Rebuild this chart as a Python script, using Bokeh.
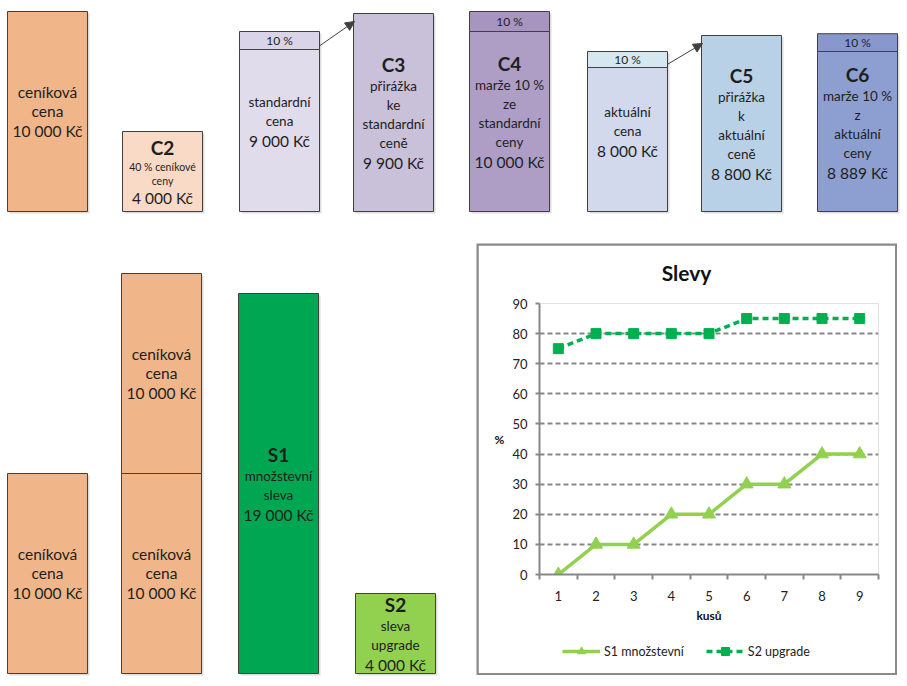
from bokeh.plotting import figure
from bokeh.models import (Range1d, FixedTicker, Arrow, NormalHead, Legend,
                          LegendItem, ColumnDataSource)
from bokeh.core.properties import value
from bokeh.embed import file_html
from bokeh.resources import INLINE

# ---------------- data ----------------
top_names = ["ceníková cena", "C2", "standardní cena", "C3", "C4", "aktuální cena", "C5", "C6"]
top_values = [10000, 4000, 9000, 9900, 10000, 8000, 8800, 8889]
top_has_band = [False, False, True, False, True, True, False, True]
band_label = "10 %"
band_share = 0.10
top_lines = [
    ["ceníková", "cena", "10 000 Kč"],
    ["C2", "40 % ceníkové", "ceny", "4 000 Kč"],
    ["standardní", "cena", "9 000 Kč"],
    ["C3", "přirážka", "ke", "standardní", "ceně", "9 900 Kč"],
    ["C4", "marže 10 %", "ze", "standardní", "ceny", "10 000 Kč"],
    ["aktuální", "cena", "8 000 Kč"],
    ["C5", "přirážka", "k", "aktuální", "ceně", "8 800 Kč"],
    ["C6", "marže 10 %", "z", "aktuální", "ceny", "8 889 Kč"],
]
# arrows: (from box index, to box index)
top_arrows = [(2, 3), (5, 6)]

bottom_stacks = [[10000], [10000, 10000], [19000], [4000]]
bottom_lines = [
    [["ceníková", "cena", "10 000 Kč"]],
    [["ceníková", "cena", "10 000 Kč"], ["ceníková", "cena", "10 000 Kč"]],
    [["S1", "množstevní", "sleva", "19 000 Kč"]],
    [["S2", "sleva", "upgrade", "4 000 Kč"]],
]

chart_title = "Slevy"
kusy = [1, 2, 3, 4, 5, 6, 7, 8, 9]
s1_mnozstevni = [0, 10, 10, 20, 20, 30, 30, 40, 40]
s2_upgrade = [75, 80, 80, 80, 80, 85, 85, 85, 85]
y_ticks = [0, 10, 20, 30, 40, 50, 60, 70, 80, 90]
series_names = ["S1 množstevní", "S2 upgrade"]

# ---------------- styles / layout ----------------
FONT = "Lato"
TXT = "#1e1e1e"
EDGE = "#404040"
KPX = 50.0  # Kč per screen pixel (from ranges / heights below)

top_x = [47, 162, 279, 393, 509, 627, 741, 857]
top_body_colors = ["#F0B68A", "#F9DAC6", "#E0DCEC", "#C9C0DA", "#AE9EC5", "#D2D9ED", "#B9D1E6", "#8D9FD0"]
top_band_colors = [None, None, "#D9D4E8", None, "#A794C1", "#D5E7EF", None, "#8898CE"]
top_styles = [
    ["b", "b", "v"],
    ["h", "s", "s", "v"],
    ["n", "n", "v"],
    ["h", "n", "n", "n", "n", "v"],
    ["h", "n", "n", "n", "n", "v"],
    ["n", "n", "v"],
    ["h", "n", "n", "n", "n", "v"],
    ["h", "n", "n", "n", "n", "v"],
]
bottom_x = [47, 161, 278, 395]
bottom_colors = [["#F0B68A"], ["#F0B68A", "#F0B68A"], ["#00A651"], ["#92D050"]]
bottom_styles = [
    [["b", "b", "v"]],
    [["b", "b", "v"], ["b", "b", "v"]],
    [["h", "n", "n", "v"]],
    [["h", "n", "n", "v"]],
]
STY = {
    "h": ("19px", "bold", 24),
    "n": ("13.5px", "normal", 19),
    "s": ("10.5px", "normal", 14),
    "v": ("15.5px", "normal", 20),
    "b": ("15.5px", "normal", 19),
}
BW = 80
S1_STYLE = dict(line_color="#92D050", line_width=3.5)
S2_STYLE = dict(line_color="#00B050", line_width=3.5, line_dash="6 4")
S1_MARK = dict(marker="triangle", size=13, fill_color="#92D050", line_color="#92D050")
S2_MARK = dict(marker="square", size=10, fill_color="#00B050", line_color="#00B050")


def place(left, top_):
    return {"position": "absolute", "left": f"{left}px", "top": f"{top_}px"}


def blank_fig(w, h, xr, yr, pos):
    p = figure(width=w, height=h, x_range=xr, y_range=yr, output_backend="svg",
               toolbar_location=None, x_axis_location=None, y_axis_location=None,
               min_border=0, styles=pos)
    p.grid.visible = False
    p.outline_line_color = None
    return p


def add_text_lines(store, x, lo, hi, lines, styles):
    c = (lo + hi) / 2.0
    total = sum(STY[s][2] for s in styles)
    cur = -total / 2.0
    for t, s in zip(lines, styles):
        size, fstyle, lh = STY[s]
        off = cur + lh / 2.0
        store["x"].append(x)
        store["y"].append(c - off * KPX)
        store["text"].append(t)
        store["size"].append(size)
        store["fstyle"].append(fstyle)
        cur += lh


def draw_boxes(p, quads, texts):
    sh = ColumnDataSource(dict(l=[q[0] + 2 for q in quads], r=[q[1] + 2 for q in quads],
                               b=[q[2] - 2 * KPX for q in quads], t=[q[3] - 2 * KPX for q in quads]))
    p.quad(left="l", right="r", bottom="b", top="t", source=sh, fill_color="#cfcfcf",
           fill_alpha=0.7, line_color=None)
    src = ColumnDataSource(dict(l=[q[0] for q in quads], r=[q[1] for q in quads],
                                b=[q[2] for q in quads], t=[q[3] for q in quads],
                                c=[q[4] for q in quads]))
    p.quad(left="l", right="r", bottom="b", top="t", source=src, fill_color="c",
           line_color=EDGE, line_width=1)
    ts = ColumnDataSource(texts)
    p.text(x="x", y="y", text="text", source=ts, text_font=value(FONT),
           text_font_size="size", text_font_style="fstyle", text_color=TXT,
           text_align="center", text_baseline="middle")


# ---------------- top row ----------------
top = blank_fig(907, 228, Range1d(0, 907), Range1d(-850, 10550), place(0, 0))
quads = []
texts = dict(x=[], y=[], text=[], size=[], fstyle=[])
for i, v in enumerate(top_values):
    x = top_x[i]
    l, r = x - BW / 2, x + BW / 2
    body_top = v * (1 - band_share) if top_has_band[i] else v
    quads.append((l, r, 0, body_top, top_body_colors[i]))
    if top_has_band[i]:
        quads.append((l, r, body_top, v, top_band_colors[i]))
        texts["x"].append(x)
        texts["y"].append((body_top + v) / 2.0)
        texts["text"].append(band_label)
        texts["size"].append("12px")
        texts["fstyle"].append("normal")
    add_text_lines(texts, x, 0, v, top_lines[i], top_styles[i])
draw_boxes(top, quads, texts)
for a, b in top_arrows:
    top.add_layout(Arrow(x_start=top_x[a] + BW / 2, y_start=top_values[a] * 0.92,
                         x_end=top_x[b] - BW / 2 + 1, y_end=top_values[b] - 8 * KPX,
                         line_color=EDGE, line_width=1,
                         end=NormalHead(size=9, fill_color=EDGE, line_color=EDGE)))

# ---------------- bottom left ----------------
bl = blank_fig(470, 456, Range1d(0, 470), Range1d(-550, 22250), place(0, 228))
quads = []
texts = dict(x=[], y=[], text=[], size=[], fstyle=[])
for i, stack in enumerate(bottom_stacks):
    x = bottom_x[i]
    base = 0
    for j, v in enumerate(stack):
        quads.append((x - BW / 2, x + BW / 2, base, base + v, bottom_colors[i][j]))
        add_text_lines(texts, x, base, base + v, bottom_lines[i][j], bottom_styles[i][j])
        base += v
draw_boxes(bl, quads, texts)

# ---------------- chart border (gray frame behind chart) ----------------
GRAY = "#878787"
frame_fig = blank_fig(421, 432, Range1d(0, 1), Range1d(0, 1), place(476, 243))
frame_fig.background_fill_color = "#8a8a8a"
frame_fig.border_fill_color = "#8a8a8a"

# ---------------- line chart ----------------
ch = figure(width=417, height=428, x_range=Range1d(0.5, 9.5), y_range=Range1d(0, 90),
            output_backend="svg", toolbar_location=None,
            min_border_left=61, min_border_right=17, min_border_top=58, min_border_bottom=99,
            styles=place(478, 245))
ch.outline_line_color = None

ch.xaxis.ticker = FixedTicker(ticks=kusy, minor_ticks=[k - 0.5 for k in kusy] + [kusy[-1] + 0.5])
ch.yaxis.ticker = FixedTicker(ticks=y_ticks, minor_ticks=[])
for ax in (ch.xaxis[0], ch.yaxis[0]):
    ax.axis_line_color = GRAY
    ax.axis_line_width = 2
    ax.major_tick_line_color = GRAY
    ax.major_tick_line_width = 2
    ax.minor_tick_line_color = GRAY
    ax.minor_tick_line_width = 2
    ax.major_label_text_font = FONT
    ax.major_label_text_font_size = "13px"
    ax.major_label_text_color = "#222222"
    ax.axis_label_text_font = FONT
    ax.axis_label_text_font_size = "12px"
    ax.axis_label_text_font_style = "bold"
    ax.axis_label_text_color = "#111111"
ch.xaxis.major_tick_out = 0
ch.xaxis.major_tick_in = 0
ch.xaxis.minor_tick_out = 5
ch.xaxis.minor_tick_in = 0
ch.xaxis.major_label_standoff = 11
ch.xaxis.axis_label = "kusů"
ch.xaxis.axis_label_standoff = 4
ch.yaxis.major_tick_out = 4
ch.yaxis.major_tick_in = 0
ch.yaxis.minor_tick_out = 0
ch.yaxis.major_label_standoff = 8
ch.yaxis.axis_label = "%"
ch.yaxis.axis_label_orientation = "horizontal"
ch.yaxis.axis_label_standoff = 5
ch.xgrid.visible = False
ch.ygrid.grid_line_color = GRAY
ch.ygrid.grid_line_width = 2
ch.ygrid.grid_line_dash = "5 3"

src = ColumnDataSource(dict(x=kusy, s1=s1_mnozstevni, s2=s2_upgrade))
ch.line("x", "s1", source=src, **S1_STYLE)
ch.scatter("x", "s1", source=src, **S1_MARK)
ch.line("x", "s2", source=src, **S2_STYLE)
ch.scatter("x", "s2", source=src, **S2_MARK)

# ---------------- chart title (own small canvas over the chart's top margin) ----------------
tf = blank_fig(120, 30, Range1d(0, 1), Range1d(0, 1), place(626, 257))
tf.background_fill_alpha = 0
tf.border_fill_alpha = 0
tf.text(x=[0.5], y=[0.5], text=[chart_title], text_font=value(FONT), text_font_size="21px",
        text_font_style="bold", text_color="#111111", text_align="center",
        text_baseline="middle")

# ---------------- legend (own small canvas, below the chart axis) ----------------
# the series are re-plotted here outside the visible range, only to feed the legend
lf = blank_fig(300, 34, Range1d(-200, -199), Range1d(-200, -199), place(562, 641))
lf.background_fill_alpha = 0
lf.border_fill_alpha = 0
r1 = [lf.line("x", "s1", source=src, **S1_STYLE), lf.scatter("x", "s1", source=src, **S1_MARK)]
r2 = [lf.line("x", "s2", source=src, **S2_STYLE), lf.scatter("x", "s2", source=src, **S2_MARK)]
leg = Legend(items=[LegendItem(label=series_names[0], renderers=r1),
                    LegendItem(label=series_names[1], renderers=r2)],
             orientation="horizontal", location="top_left", border_line_color=None,
             background_fill_alpha=0, label_text_font=FONT, label_text_font_size="12.5px",
             label_text_color="#222222", glyph_width=38, glyph_height=20, label_height=20,
             label_standoff=4, spacing=22, padding=6, margin=0)
lf.add_layout(leg, "center")

open("out.html", "w").write(file_html([top, bl, frame_fig, ch, tf, lf], INLINE))
